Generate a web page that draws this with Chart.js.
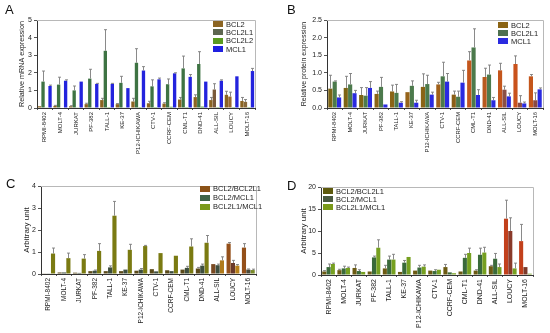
<!DOCTYPE html>
<html>
<head>
<meta charset="utf-8">
<script src="https://cdn.jsdelivr.net/npm/chart.js@4.4.1/dist/chart.umd.min.js"></script>
<style>
  body { margin: 0; background: #fff; width: 550px; height: 333px; position: relative; overflow: hidden; font-family: Arial, "Liberation Sans", sans-serif; }
  .panel { position: absolute; }
  .letter { position: absolute; font-size: 13px; color: #111; }
  .legend { position: absolute; font-size: 7.5px; color: #222; }
  .legend div { display: flex; align-items: center; white-space: nowrap; }
  .legend span { display: inline-block; width: 10px; height: 6px; margin-right: 3px; }
</style>
</head>
<body>
<div class="panel" style="left:0;top:0"><canvas id="chartA" width="275" height="165"></canvas></div>
<div class="panel" style="left:275px;top:0"><canvas id="chartB" width="275" height="165"></canvas></div>
<div class="panel" style="left:0;top:165px"><canvas id="chartC" width="275" height="168"></canvas></div>
<div class="panel" style="left:275px;top:165px"><canvas id="chartD" width="275" height="168"></canvas></div>

<div class="letter" style="left:5px;top:2px">A</div>
<div class="letter" style="left:287px;top:2px">B</div>
<div class="letter" style="left:6px;top:176px">C</div>
<div class="letter" style="left:287px;top:178px">D</div>

<div class="legend" id="legA" style="left:213px;top:20px"></div>
<div class="legend" id="legB" style="left:498px;top:21px"></div>
<div class="legend" id="legC" style="left:200px;top:184px"></div>
<div class="legend" id="legD" style="left:323px;top:187px"></div>

<script>
const cellLines = ["RPMI-8402", "MOLT-4", "JURKAT", "PF-382", "TALL-1", "KE-37", "P12-ICHIKAWA",
  "CTV-1", "CCRF-CEM", "CML-T1", "DND-41", "ALL-SIL", "LOUCY", "MOLT-16"];

// A - relative mRNA expression
const mrnaBcl2 = [0.1, 0.12, 0.1, 0.22, 0.45, 0.22, 0.37, 0.27, 0.25, 0.48, 0.62, 0.45, 0.75, 0.4];
const mrnaBcl2Err = [0.12, 0.15, 0.13, 0.27, 0.55, 0.25, 0.55, 0.38, 0.3, 0.6, 0.75, 0.6, 0.95, 0.6];
const mrnaBcl2l1 = [1.5, 1.33, 1.0, 1.67, 3.25, 1.43, 2.57, 1.23, 1.35, 2.25, 2.5, 1.05, 0.65, 0.35];
const mrnaBcl2l1Err = [2.1, 1.75, 1.25, 2.2, 4.45, 1.8, 3.37, 1.6, 1.65, 2.95, 3.2, 1.38, 0.9, 0.48];
const mrnaBcl2l2 = [0.02, 0.03, 0.02, 0.02, 0.05, 0.02, 0.05, 0.05, 0.07, 0.05, 0.08, 0.05, 0.05, 0.05];
const mrnaMcl1 = [1.25, 1.55, 1.5, 1.37, 1.37, 1.13, 2.13, 1.63, 1.97, 1.77, 1.5, 1.55, 1.8, 2.1];
const mrnaMcl1Err = [1.3, 1.6, 1.52, 1.4, 1.4, 1.15, 2.35, 1.7, 2.0, 1.9, 1.52, 1.6, 1.82, 2.25];

// B - relative protein expression
const protBcl2 = [0.55, 0.57, 0.37, 0.4, 0.47, 0.45, 0.6, 0.67, 0.38, 1.35, 0.88, 1.07, 1.25, 0.9];
const protBcl2Err = [0.93, 0.9, 0.58, 0.48, 0.65, 0.46, 0.97, 0.73, 0.48, 1.6, 1.13, 1.27, 1.48, 0.95];
const protBcl2l1 = [0.75, 0.67, 0.35, 0.6, 0.43, 0.63, 0.68, 0.9, 0.32, 1.72, 0.95, 0.52, 0.15, 0.22];
const protBcl2l1Err = [0.77, 0.98, 0.58, 0.87, 0.67, 0.77, 0.93, 1.3, 0.48, 2.25, 1.22, 0.62, 0.35, 0.43];
const protMcl1 = [0.3, 0.42, 0.57, 0.1, 0.15, 0.15, 0.38, 0.75, 0.72, 0.37, 0.22, 0.33, 0.13, 0.53];
const protMcl1Err = [0.37, 0.5, 0.75, 0.11, 0.18, 0.22, 0.45, 0.98, 1.07, 0.52, 0.3, 0.42, 0.17, 0.57];

// C - mRNA ratios
const mrnaRatio1 = [0.03, 0.07, 0.06, 0.13, 0.13, 0.13, 0.15, 0.22, 0.17, 0.2, 0.25, 0.45, 1.38, 1.2];
const mrnaRatio1Err = [0.04, 0.08, 0.07, 0.15, 0.15, 0.15, 0.17, 0.24, 0.19, 0.22, 0.3, 0.47, 1.43, 1.38];
const mrnaRatio2 = [0.03, 0.07, 0.05, 0.15, 0.3, 0.2, 0.2, 0.12, 0.13, 0.28, 0.38, 0.4, 0.5, 0.2];
const mrnaRatio2Err = [0.04, 0.08, 0.06, 0.18, 0.37, 0.22, 0.25, 0.13, 0.14, 0.35, 0.45, 0.45, 0.62, 0.23];
const mrnaRatio3 = [0.93, 0.72, 0.7, 1.05, 2.65, 1.1, 1.27, 0.95, 0.83, 1.25, 1.42, 0.62, 0.38, 0.18];
const mrnaRatio3Err = [1.18, 0.95, 0.88, 1.38, 3.3, 1.35, 1.3, 0.97, 0.84, 1.6, 1.75, 0.78, 0.43, 0.22];

// D - protein ratios
const protRatio1 = [0.8, 1.1, 1.6, 0.8, 1.5, 0.7, 1.0, 1.0, 1.8, 0.8, 1.0, 2.0, 12.8, 7.7];
const protRatio1Err = [1.0, 1.3, 2.3, 0.9, 2.2, 0.8, 1.1, 1.1, 2.4, 0.9, 1.2, 2.2, 17.0, 11.5];
const protRatio2 = [1.8, 1.5, 0.9, 4.0, 3.5, 2.8, 1.7, 0.9, 0.6, 3.9, 4.6, 3.7, 10.0, 1.8];
const protRatio2Err = [2.5, 2.0, 1.2, 4.3, 4.3, 3.3, 2.2, 1.2, 0.7, 4.7, 6.1, 4.9, 13.0, 1.9];
const protRatio3 = [2.5, 1.6, 0.7, 6.2, 3.5, 4.1, 1.9, 1.2, 0.4, 5.0, 5.1, 1.8, 1.5, 0.3];
const protRatio3Err = [2.7, 1.8, 0.8, 8.0, 4.7, 4.2, 2.3, 1.3, 0.5, 6.1, 6.3, 2.5, 2.7, 0.4];

Chart.defaults.font.family = "Arial, 'Liberation Sans', sans-serif";

// grey error bars, upper side only
const errorBars = {
  id: "errorBars",
  afterDatasetsDraw(chart) {
    const ctx = chart.ctx;
    const yScale = chart.scales.y;
    chart.data.datasets.forEach((ds, i) => {
      if (!ds.errorTop) return;
      chart.getDatasetMeta(i).data.forEach((bar, j) => {
        const top = yScale.getPixelForValue(ds.errorTop[j]);
        if (top >= bar.y - 0.5) return;
        const x = Math.round(bar.x) + 0.5;
        ctx.save();
        ctx.strokeStyle = "rgba(125,125,125,0.9)";
        ctx.lineWidth = 1;
        ctx.beginPath();
        ctx.moveTo(x, bar.y);
        ctx.lineTo(x, top);
        ctx.moveTo(x - 1.5, top);
        ctx.lineTo(x + 1.5, top);
        ctx.stroke();
        ctx.restore();
      });
    });
  },
};

// light box on top and right of plot
const frame = {
  id: "frame",
  beforeDatasetsDraw(chart) {
    const { ctx, chartArea } = chart;
    ctx.save();
    ctx.strokeStyle = "#b8b8b8";
    ctx.lineWidth = 1;
    ctx.beginPath();
    ctx.moveTo(chartArea.left, chartArea.top + 0.5);
    ctx.lineTo(chartArea.right + 0.5, chartArea.top + 0.5);
    ctx.lineTo(chartArea.right + 0.5, chartArea.bottom);
    ctx.stroke();
    ctx.restore();
  },
};

function makeChart(id, datasets, opt) {
  const canvas = document.getElementById(id);
  const yTicks = { stepSize: opt.step, padding: 2, color: "#222", font: { size: 7 } };
  if (opt.fmt) yTicks.callback = opt.fmt;
  return new Chart(canvas, {
    type: "bar",
    data: { labels: cellLines, datasets: datasets },
    options: {
      responsive: false,
      animation: false,
      events: [],
      layout: { padding: { left: 0, right: canvas.width - opt.right, top: opt.top, bottom: 0 } },
      datasets: { bar: { categoryPercentage: opt.cat, barPercentage: 0.95 } },
      plugins: { legend: { display: false }, tooltip: { enabled: false } },
      scales: {
        x: {
          grid: { drawOnChartArea: false, tickLength: 2, color: "#555" },
          border: { color: "#333" },
          ticks: { autoSkip: false, maxRotation: 90, minRotation: 90, padding: 2, color: "#222", font: { size: opt.xFont } },
          afterFit: (axis) => {
            axis.height = canvas.height - opt.bottom;
            axis.paddingLeft = 0;
            axis.paddingRight = 0;
          },
        },
        y: {
          min: 0,
          max: opt.max,
          grid: { drawOnChartArea: false, tickLength: 3, color: "#555" },
          border: { color: "#333" },
          ticks: yTicks,
          title: { display: true, text: opt.title, color: "#222", font: { size: opt.titleSize }, padding: { top: opt.titlePad, bottom: 0 } },
          afterFit: (axis) => {
            axis.width = opt.left;
            axis.paddingTop = 0;
            axis.paddingBottom = 0;
          },
        },
      },
    },
    plugins: [frame, errorBars],
  });
}

function fillLegend(id, items) {
  document.getElementById(id).innerHTML = items
    .map((it) => `<div style="height:${it[2]}px"><span style="background:${it[1]}"></span>${it[0]}</div>`)
    .join("");
}

const rep = (c, n) => Array(n).fill(c);

// A
makeChart("chartA", [
  { label: "BCL2", data: mrnaBcl2, errorTop: mrnaBcl2Err, backgroundColor: "#8b6422" },
  { label: "BCL2L1", data: mrnaBcl2l1, errorTop: mrnaBcl2l1Err,
    backgroundColor: [...rep("#3e7343", 11), "#7a5a3a", "#9a6a30", "#8a6a3a"] },
  { label: "BCL2L2", data: mrnaBcl2l2, backgroundColor: "#4f9a2a" },
  { label: "MCL1", data: mrnaMcl1, errorTop: mrnaMcl1Err, backgroundColor: "#2323dd" },
], { top: 20, left: 37, right: 255, bottom: 108, max: 5, step: 1, cat: 0.9, xFont: 6,
     title: "Relative mRNA expression", titleSize: 7.2, titlePad: 18 });

// B
makeChart("chartB", [
  { label: "BCL2", data: protBcl2, errorTop: protBcl2Err,
    backgroundColor: ["#7d6414", "#7d6414", "#7d6414", "#8a6416", "#8a6416", "#96641a", "#8a6416",
      "#a0601a", "#8a5e16", "#c4561c", "#b85a1e", "#c4561c", "#c9521c", "#c4561c"] },
  { label: "BCL2L1", data: protBcl2l1, errorTop: protBcl2l1Err,
    backgroundColor: [...rep("#4c7a4c", 11), "#8a5046", "#8a4a42", "#8a4a42"] },
  { label: "MCL1", data: protMcl1, errorTop: protMcl1Err, backgroundColor: "#2a2ae0" },
], { top: 20, left: 52, right: 268, bottom: 108, max: 2.5, step: 0.5, cat: 0.85, xFont: 5.8,
     fmt: (v) => v.toFixed(1), title: "Relative protein expression", titleSize: 7, titlePad: 25 });

// C
makeChart("chartC", [
  { label: "BCL2/BCL2L1", data: mrnaRatio1, errorTop: mrnaRatio1Err,
    backgroundColor: [...rep("#5a4a1a", 11), "#7a4a22", "#94501a", "#94501a"] },
  { label: "BCL2/MCL1", data: mrnaRatio2, errorTop: mrnaRatio2Err,
    backgroundColor: [...rep("#3e4e3e", 12), "#6a3a2a", "#4a4a3a"] },
  { label: "BCL2L1/MCL1", data: mrnaRatio3, errorTop: mrnaRatio3Err,
    backgroundColor: [...rep("#7a7a12", 11), "#b07a1a", "#b8801a", "#7a8a2a"] },
], { top: 21, left: 41, right: 256, bottom: 109, max: 4, step: 1, cat: 0.85, xFont: 6.5,
     title: "Arbitrary unit", titleSize: 8, titlePad: 22 });

// D
makeChart("chartD", [
  { label: "BCL2/BCL2L1", data: protRatio1, errorTop: protRatio1Err,
    backgroundColor: [...rep("#6b5a12", 12), "#c2401c", "#c2401c"] },
  { label: "BCL2/MCL1", data: protRatio2, errorTop: protRatio2Err,
    backgroundColor: [...rep("#3a6a3a", 12), "#8a3a2a", "#7a3a2a"] },
  { label: "BCL2L1/MCL1", data: protRatio3, errorTop: protRatio3Err, backgroundColor: "#76a020" },
], { top: 22, left: 46, right: 258, bottom: 110, max: 20, step: 5, cat: 0.85, xFont: 7,
     title: "Arbitrary unit", titleSize: 8, titlePad: 24 });

fillLegend("legA", [["BCL2", "#8b6422", 8.3], ["BCL2L1", "#5d6650", 8.3], ["BCL2L2", "#5a9a20", 8.3], ["MCL1", "#2020e0", 8.3]]);
fillLegend("legB", [["BCL2", "#8b6414", 8], ["BCL2L1", "#4e7050", 8], ["MCL1", "#2a2ae0", 8]]);
fillLegend("legC", [["BCL2/BCL2L1", "#8b5218", 9], ["BCL2/MCL1", "#3f6448", 9], ["BCL2L1/MCL1", "#7a9a1a", 9]]);
fillLegend("legD", [["BCL2/BCL2L1", "#5e5a0e", 8], ["BCL2/MCL1", "#4a5a42", 8], ["BCL2L1/MCL1", "#7a9a1a", 8]]);
</script>
</body>
</html>
